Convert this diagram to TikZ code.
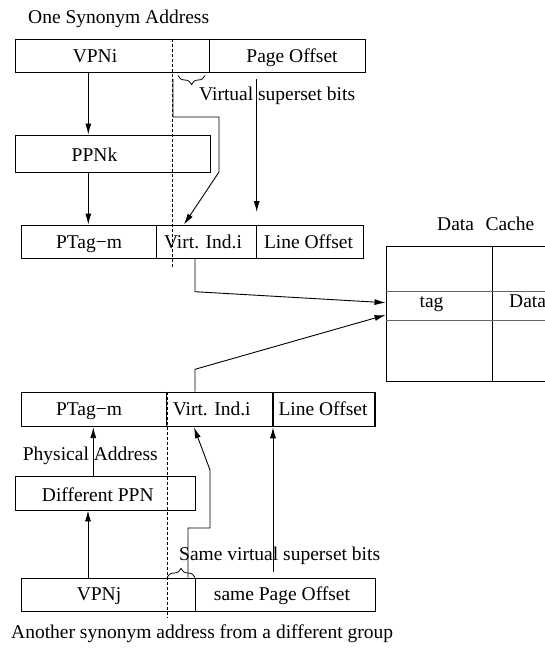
\documentclass[tikz,border=0pt]{standalone}
\usepackage{fontspec}
\setmainfont{Liberation Serif}
\usetikzlibrary{arrows.meta,decorations.pathreplacing,fit}
\begin{document}
\begin{tikzpicture}[x=1pt,y=-1pt,
  lbl/.style={inner sep=0pt, anchor=base, font=\fontsize{19.5}{23}\selectfont},
  lblw/.style={lbl, anchor=base west},
  cell/.style={draw, line width=0.9pt, inner sep=0pt},
  conn/.style={draw, line width=0.9pt},
  arr/.style={conn, -{Latex[length=11pt,width=6pt]}},
  guide/.style={draw, line width=0.7pt, dash pattern=on 3pt off 2pt},
  thinrow/.style={draw, line width=0.9pt, black!60},
  bracedown/.style={draw, line width=0.8pt, decorate, decoration={brace, amplitude=9pt}}]
\useasboundingbox (0,0) rectangle (544,650);

% ---------- first synonym address ----------
\node[lblw] (title1) at (28,23.5) {One Synonym Address};
\node[cell, fit={(15,39.3) (365,72.7)}] (top) {};
\draw[conn] (209,0 |- top.north) -- (209,0 |- top.south);
\node[lbl] (vpni) at (95,63) {VPNi};
\node[lbl] (poff) at (292,63) {Page Offset};

% superset bits of the first address
\draw[bracedown] (205,75.5) -- (178,75.5);
\node[lblw] (vsb) at (199,101) {Virtual superset bits};

\node[cell, fit={(15,135) (210,172.7)}] (ppnk) {};
\node[lbl] (ppnkt) at (94.5,161.7) {PPNk};

% physical address of the first synonym
\node[cell, fit={(21,225) (156,258)}] (ptagA) {};
\node[cell, fit={(156,225) (256.7,258)}] (virtA) {};
\node[cell, fit={(256.7,225) (363,258)}] (lineA) {};
\node[lbl] (ptagAt) at (89,248) {PTag−m};
\node[lbl] (virtAt) at (203,248) {Virt. Ind.i};
\node[lbl] (lineAt) at (308.5,248) {Line Offset};

\draw[guide] (172.7,0 |- top.north) -- (172.7,268);

% ---------- data cache ----------
\node[lblw] (cachet) at (437,230) {Data\hspace*{11.5pt}Cache};
\node[cell, fit={(386,246.7) (560,381)}] (cache) {};
\draw[conn] (492.7,0 |- cache.north) -- (492.7,0 |- cache.south);
\draw[thinrow] (cache.west |- 0,291.7) -- (cache.east |- 0,291.7);
\draw[thinrow] (cache.west |- 0,320) -- (cache.east |- 0,320);
\node[lbl] (tagt) at (431.5,307) {tag};
\node[lblw] (datat) at (509,307) {Data};

% ---------- second synonym address ----------
\node[cell, fit={(21,392.3) (166.7,426.7)}] (ptagB) {};
\node[cell, line width=1.2pt, fit={(166.7,392.3) (273,426.7)}] (virtB) {};
\node[cell, line width=1.2pt, fit={(273,392.3) (375,426.7)}] (lineB) {};
\node[lbl] (ptagBt) at (89,415) {PTag−m};
\node[lbl] (virtBt) at (211.7,415) {Virt. Ind.i};
\node[lbl] (lineBt) at (323,415) {Line Offset};

\node[lblw] (phys) at (22.7,460) {Physical Address};
\node[cell, fit={(15,476.7) (195,510)}] (dppn) {};
\node[lbl] (dppnt) at (97.8,501.7) {Different PPN};

\node[lblw] (ssb) at (179,560) {Same virtual superset bits};
\draw[bracedown] (167,577.5) -- (195,577.5);

\node[cell, fit={(21,578) (375,611)}] (vpnj) {};
\draw[conn] (195,0 |- vpnj.north) -- (195,0 |- vpnj.south);
\node[lbl] (vpnjt) at (99,600) {VPNj};
\node[lbl] (spoff) at (282,600) {same Page Offset};
\node[lblw] (title2) at (11,638) {Another synonym address from a different group};

\draw[guide] (167,0 |- ptagB.north) -- (167,617);

% ---------- connectors ----------
\coordinate (bitsA) at (173,79);
\coordinate (poStart) at (256.7,79);
\coordinate (poEnd) at (256.7,212);
\coordinate (poStartB) at (273,571.7);

\draw[arr] (88.3,0 |- top.south) -- (88.3,0 |- ppnk.north);
\draw[arr] (88.3,0 |- ppnk.south) -- (88.3,0 |- ptagA.north);
\draw[arr] (bitsA) -- (173,117) -- (219,117) -- (219,172) -- (184,0 |- virtA.north);
\draw[arr] (poStart) -- (poEnd);
\draw[arr] (195,0 |- virtA.south) -- (195,291.7) -- (cache.west |- 0,302.7);
\draw[arr] (195,0 |- virtB.north) -- (195,369.3) -- (cache.west |- 0,315);

\draw[arr] (93.3,0 |- dppn.north) -- (93.3,0 |- ptagB.south);
\draw[arr] (88,0 |- vpnj.north) -- (88,0 |- dppn.south);
\draw[arr] (188,0 |- vpnj.north) -- (188,528) -- (210,528) -- (210,470) -- (194,0 |- virtB.south);
\draw[arr] (poStartB) -- (273,0 |- lineB.south);
\end{tikzpicture}
\end{document}
